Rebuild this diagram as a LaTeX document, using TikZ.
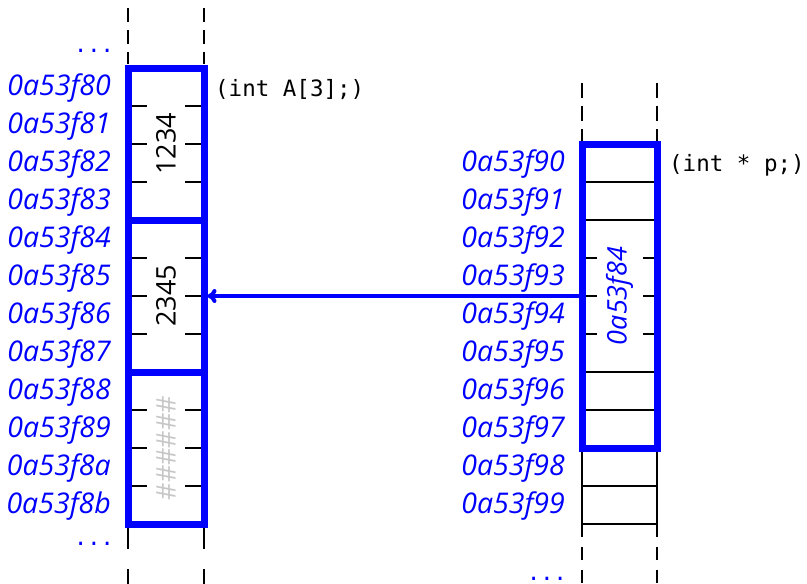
\documentclass[tikz,border=0pt]{standalone}
\usepackage{fontspec}
\setmainfont{Open Sans}
\newfontfamily\codefont{DejaVu Sans Mono}
\usetikzlibrary{arrows.meta,positioning}

\begin{document}
\begin{tikzpicture}[x=1pt, y=-1pt,
    every node/.style={inner sep=0pt, font=\fontsize{27}{32}\selectfont},
    addr/.style={anchor=base east, text=blue, font=\fontsize{28.5}{32}\selectfont\itshape},
    blk/.style={draw=blue, line width=7pt, minimum width=76pt},
    cellline/.style={line width=1.8pt},
    guide/.style={line width=2pt, dash pattern=on 14pt off 8pt},
    decl/.style={anchor=base west, font=\fontsize{22.5}{26}\selectfont\codefont},
    more/.style={anchor=base east, text=blue, text depth=0pt, font=\fontsize{22}{26}\selectfont\codefont}]
    \useasboundingbox (0,0) rectangle (807,584);

    % array A
    \draw[guide] (128,8) -- (128,64) (204,8) -- (204,64);
    \draw[guide, dash pattern=on 25pt off 20pt] (128,524) -- (128,584) (204,524) -- (204,584);
    \draw[cellline] (128,106) -- (147,106) (185,106) -- (204,106)
                    (128,144) -- (147,144) (185,144) -- (204,144)
                    (128,182) -- (147,182) (185,182) -- (204,182);
    \draw[cellline] (128,258) -- (147,258) (185,258) -- (204,258)
                    (128,296) -- (147,296) (185,296) -- (204,296)
                    (128,334) -- (147,334) (185,334) -- (204,334);
    \draw[cellline] (128,410) -- (147,410) (185,410) -- (204,410)
                    (128,448) -- (147,448) (185,448) -- (204,448)
                    (128,486) -- (147,486) (185,486) -- (204,486);
    \node[blk, minimum height=152pt] (A0) at (166,144) {};
    \node[blk, minimum height=152pt] (A1) at (166,296) {};
    \node[blk, minimum height=152pt] (A2) at (166,448) {};
    \node[rotate=90] (v0) at (A0) {1234};
    \node[rotate=90] (v1) at (A1) {2345};
    \node[rotate=90, text=black!22] (v2) at (A2) {\#\#\#\#\#\#};
    \node[decl] (declA) at (215,96) {(int A[3];)};

    \node[more] (upA) at (114,52) {...};
    \node[addr] (a80) at (111,95) {0a53f80};
    \node[addr] (a81) at (111,133) {0a53f81};
    \node[addr] (a82) at (111,171) {0a53f82};
    \node[addr] (a83) at (111,209) {0a53f83};
    \node[addr] (a84) at (111,247) {0a53f84};
    \node[addr] (a85) at (111,285) {0a53f85};
    \node[addr] (a86) at (111,323) {0a53f86};
    \node[addr] (a87) at (111,361) {0a53f87};
    \node[addr] (a88) at (111,399) {0a53f88};
    \node[addr] (a89) at (111,437) {0a53f89};
    \node[addr] (a8a) at (111,475) {0a53f8a};
    \node[addr] (a8b) at (111,513) {0a53f8b};
    \node[more] (downA) at (114,545) {...};

    % pointer p
    \draw[guide, dash pattern=on 15pt off 8pt] (582,83) -- (582,144) (657,83) -- (657,144);
    \draw[guide, dash pattern=on 13pt off 10pt] (582,524) -- (582,584) (657,524) -- (657,584);
    \draw[cellline] (582,182) -- (657,182) (582,220) -- (657,220)
                    (582,372) -- (657,372) (582,410) -- (657,410);
    \draw[cellline] (582,258) -- (597,258) (643,258) -- (657,258)
                    (582,296) -- (597,296) (643,296) -- (657,296)
                    (582,334) -- (597,334) (643,334) -- (657,334);
    \draw[cellline] (582,448) -- (582,524) (657,448) -- (657,524)
                    (582,486) -- (657,486) (582,524) -- (657,524);
    \node[blk, minimum width=75pt, minimum height=304pt] (P) at (619.5,296) {};
    \node[rotate=90, text=blue, font=\fontsize{27}{32}\selectfont\itshape] (pv) at (619.5,296) {0a53f84};
    \node[decl] (declP) at (669,171) {(int * p;)};

    \node[addr] (a90) at (565,171) {0a53f90};
    \node[addr] (a91) at (565,209) {0a53f91};
    \node[addr] (a92) at (565,247) {0a53f92};
    \node[addr] (a93) at (565,285) {0a53f93};
    \node[addr] (a94) at (565,323) {0a53f94};
    \node[addr] (a95) at (565,361) {0a53f95};
    \node[addr] (a96) at (565,399) {0a53f96};
    \node[addr] (a97) at (565,437) {0a53f97};
    \node[addr] (a98) at (565,475) {0a53f98};
    \node[addr] (a99) at (565,513) {0a53f99};
    \node[more] (downP) at (567,580) {...};

    \draw[blue, line width=4pt, -{To[length=9pt, width=14pt]}] (P.west) -- (A1.east);
\end{tikzpicture}
\end{document}
